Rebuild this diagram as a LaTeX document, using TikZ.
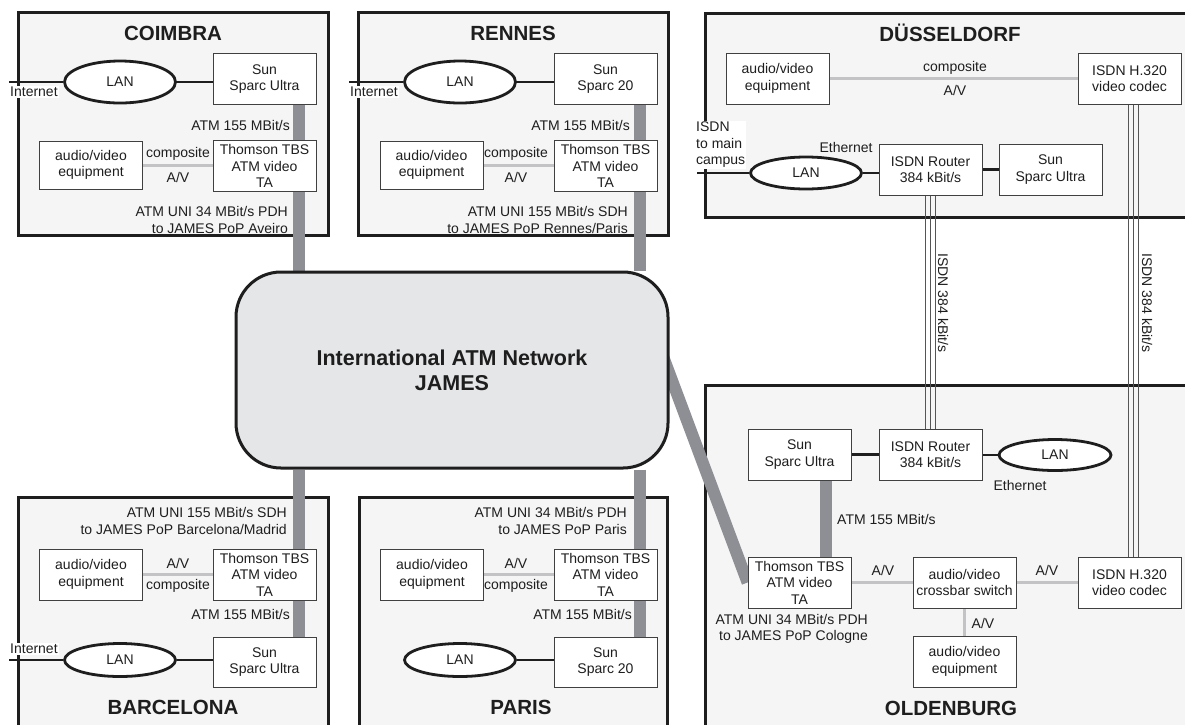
\documentclass[tikz,border=0pt]{standalone}
\usepackage{fontspec}
\setmainfont{Liberation Sans}
\usetikzlibrary{shapes.geometric,calc}
\definecolor{regfill}{HTML}{F5F5F5}
\definecolor{jamesfill}{HTML}{E5E6E8}
\definecolor{atmgray}{HTML}{8E8F94}
\definecolor{avgray}{HTML}{C3C3C5}
\definecolor{isdngray}{HTML}{555555}
\definecolor{ink}{HTML}{1E1E1E}
\pgfdeclarelayer{bg}
\pgfdeclarelayer{lines}
\pgfsetlayers{bg,lines,main}
\begin{document}
\begin{tikzpicture}[x=1pt,y=-1pt,
  every node/.style={font=\fontsize{14}{16.5}\selectfont, inner sep=0pt, text=ink},
  region/.style={draw=ink, line width=3pt, fill=regfill},
  dev/.style={draw=ink!85, line width=0.8pt, fill=white, minimum width=103pt, minimum height=51pt, align=center},
  lanbig/.style={ellipse, draw=ink, line width=2.8pt, fill=white, minimum width=111pt, minimum height=42pt},
  lansmall/.style={ellipse, draw=ink, line width=2.8pt, fill=white, minimum width=111pt, minimum height=32pt},
  title/.style={font=\bfseries\fontsize{20.5}{24}\selectfont},
  lbl/.style={fill=white, inner sep=1pt},
  lanline/.style={line width=2.8pt, draw=ink},
  atm/.style={line width=12pt, draw=atmgray},
  av/.style={line width=3pt, draw=avgray},
  isdn/.style={line width=0.7pt, draw=isdngray}]
\useasboundingbox (0,0) rectangle (1185,724);

% ---------- regions ----------
\begin{pgfonlayer}{bg}
\fill[white] (0,0) rectangle (1185,724);
\draw[region] (18,12) rectangle (328,235);
\draw[region] (358,12) rectangle (668,235);
\draw[region] (705,13) rectangle (1200,217);
\draw[region] (18,497) rectangle (328,745);
\draw[region] (359,497) rectangle (667,745);
\draw[region] (705,385) rectangle (1200,745);
\end{pgfonlayer}

% ---------- JAMES ----------
\node[draw=ink, line width=3pt, fill=jamesfill, rounded corners=45pt, minimum width=432pt, minimum height=196pt, align=center,
  font=\bfseries\fontsize{21.5}{25}\selectfont] (james) at (452,370) {International ATM Network\\JAMES};

% ---------- COIMBRA ----------
\node[title] (tC) at (173,33) {COIMBRA};
\node[lanbig] (lanC) at (120,82) {LAN};
\node[dev] (sunC) at (264.5,79) {Sun\\Sparc Ultra};
\node[dev] (taC) at (264.5,166) {Thomson TBS\\ATM video\\TA};
\node[dev, minimum height=48pt] (avC) at (91,165) {audio/video\\equipment};
\coordinate (inetC) at (9,82);
\node[lbl, anchor=north west] (inetCl) at (9,86) {Internet};
\node (compC) at (178,154) {composite};
\node (avlC) at (178,177) {A/V};
\node[anchor=east] (atmC) at (290,125) {ATM 155 MBit/s};
\node[anchor=east, align=right] (uniC) at (288,220) {ATM UNI 34 MBit/s PDH\\to JAMES PoP Aveiro};
\coordinate (xC) at (299,0);

% ---------- RENNES ----------
\node[title] (tR) at (513,33) {RENNES};
\node[lanbig] (lanR) at (460,82) {LAN};
\node[dev] (sunR) at (605.5,79) {Sun\\Sparc 20};
\node[dev] (taR) at (605.5,166) {Thomson TBS\\ATM video\\TA};
\node[dev, minimum height=48pt] (avR) at (431.5,165) {audio/video\\equipment};
\coordinate (inetR) at (349,82);
\node[lbl, anchor=north west] (inetRl) at (349,86) {Internet};
\node (compR) at (516,154) {composite};
\node (avlR) at (516,177) {A/V};
\node[anchor=east] (atmR) at (630,125) {ATM 155 MBit/s};
\node[anchor=east, align=right] (uniR) at (628,220) {ATM UNI 155 MBit/s SDH\\to JAMES PoP Rennes/Paris};
\coordinate (xR) at (640,0);

% ---------- DUESSELDORF ----------
\node[title] (tD) at (950,33) {DÜSSELDORF};
\node[dev] (avD) at (777.5,78.5) {audio/video\\equipment};
\node[dev] (codecD) at (1129.5,78.5) {ISDN H.320\\video codec};
\node (compD) at (955,68) {composite};
\node (avlD) at (955,90) {A/V};
\node[lbl, anchor=west, align=left] (campD) at (695,145) {ISDN\\to main\\campus};
\coordinate (campL) at (697,173);
\node[lansmall] (lanD) at (806,173) {LAN};
\node (ethD) at (846,147) {Ethernet};
\node[dev] (rD) at (930.5,169.5) {ISDN Router\\384 kBit/s};
\node[dev] (sunD) at (1050.5,169.5) {Sun\\Sparc Ultra};

% ---------- OLDENBURG ----------
\node[title] (tO) at (951,708) {OLDENBURG};
\node[dev] (sunO) at (799.5,454.5) {Sun\\Sparc Ultra};
\node[dev] (rO) at (930.5,454.5) {ISDN Router\\384 kBit/s};
\node[lansmall, minimum width=112pt, minimum height=31pt] (lanO) at (1055,455) {LAN};
\node (ethO) at (1020,485) {Ethernet};
\node[anchor=west] (atmO) at (837,519) {ATM 155 MBit/s};
\node[dev] (taO) at (799.5,582.5) {Thomson TBS\\ATM video\\TA};
\node[dev] (xbO) at (964.5,582.5) {audio/video\\crossbar switch};
\node[dev] (codecO) at (1129.5,582.5) {ISDN H.320\\video codec};
\node[dev] (eqO) at (964.5,661.5) {audio/video\\equipment};
\node (avO1) at (883,570) {A/V};
\node (avO2) at (1047,570) {A/V};
\node (avO3) at (983,623) {A/V};
\node[anchor=east, align=right] (uniO) at (868,629) {ATM UNI 34 MBit/s PDH\\to JAMES PoP Cologne};
\coordinate (xO) at (826,0);
\coordinate (jd) at (655,335);

% ISDN labels
\node[rotate=-90] (isdnL1) at (943,303) {ISDN 384 kBit/s};
\node[rotate=-90] (isdnL2) at (1147,303) {ISDN 384 kBit/s};

% ---------- BARCELONA ----------
\node[title] (tB) at (173,707) {BARCELONA};
\node[anchor=east, align=right] (uniB) at (287,521) {ATM UNI 155 MBit/s SDH\\to JAMES PoP Barcelona/Madrid};
\node[dev] (avB) at (91,574.5) {audio/video\\equipment};
\node[dev] (taB) at (264.5,574.5) {Thomson TBS\\ATM video\\TA};
\node (avlB) at (178,563) {A/V};
\node (compB) at (178,586) {composite};
\node[anchor=east] (atmB) at (290,614) {ATM 155 MBit/s};
\node[dev, minimum height=50pt] (sunB) at (264.5,662) {Sun\\Sparc Ultra};
\node[lansmall, minimum height=33pt] (lanB) at (120,660) {LAN};
\coordinate (inetB) at (9,660);
\node[lbl, anchor=south west] (inetBl) at (9,655) {Internet};

% ---------- PARIS ----------
\node[title] (tP) at (521,707) {PARIS};
\node[anchor=east, align=right] (uniP) at (627,521) {ATM UNI 34 MBit/s PDH\\to JAMES PoP Paris};
\node[dev] (avP) at (432,574.5) {audio/video\\equipment};
\node[dev] (taP) at (605.5,574.5) {Thomson TBS\\ATM video\\TA};
\node (avlP) at (516,563) {A/V};
\node (compP) at (516,586) {composite};
\node[anchor=east] (atmP) at (632,614) {ATM 155 MBit/s};
\node[dev, minimum height=50pt] (sunP) at (605.5,662) {Sun\\Sparc 20};
\node[lansmall, minimum height=33pt] (lanP) at (460,660) {LAN};

% ---------- connectors ----------
\begin{pgfonlayer}{lines}
% ATM trunks
\draw[atm] (sunC.south -| xC) -- (james.north -| xC);
\draw[atm] (sunR.south -| xR) -- (james.north -| xR);
\draw[atm] (james.south -| xC) -- (sunB.north -| xC);
\draw[atm] (james.south -| xR) -- (sunP.north -| xR);
\draw[atm] (sunO.south -| xO) -- (taO.north -| xO);
\draw[atm] (jd) -- (taO.west);
% A/V links
\draw[av] (avC.east) -- (taC.west |- avC.east);
\draw[av] (avR.east) -- (taR.west |- avR.east);
\draw[av] (avD.east) -- (codecD.west);
\draw[av] (avB.east) -- (taB.west);
\draw[av] (avP.east) -- (taP.west);
\draw[av] (taO.east) -- (xbO.west);
\draw[av] (xbO.east) -- (codecO.west);
\draw[av] (xbO.south) -- (eqO.north);
% LAN links
\draw[lanline] (inetC) -- (lanC.west);
\draw[lanline] (lanC.east) -- (sunC.west |- lanC.east);
\draw[lanline] (inetR) -- (lanR.west);
\draw[lanline] (lanR.east) -- (sunR.west |- lanR.east);
\draw[lanline] (campL) -- (lanD.west);
\draw[lanline] (lanD.east) -- (rD.west |- lanD.east);
\draw[lanline] (rD.east) -- (sunD.west);
\draw[lanline] (sunO.east) -- (rO.west);
\draw[lanline] (rO.east |- lanO.west) -- (lanO.west);
\draw[lanline] (inetB) -- (lanB.west);
\draw[lanline] (lanB.east) -- (sunB.west |- lanB.east);
\draw[lanline] (lanP.east) -- (sunP.west |- lanP.east);
% ISDN triple lines
\foreach \d in {-5,0,5}{
  \draw[isdn] ([xshift=\d]rD.south) -- ([xshift=\d]rO.north);
  \draw[isdn] ([xshift=\d+3.5]codecD.south) -- ([xshift=\d+3.5]codecO.north);
}
\end{pgfonlayer}
\end{tikzpicture}
\end{document}
